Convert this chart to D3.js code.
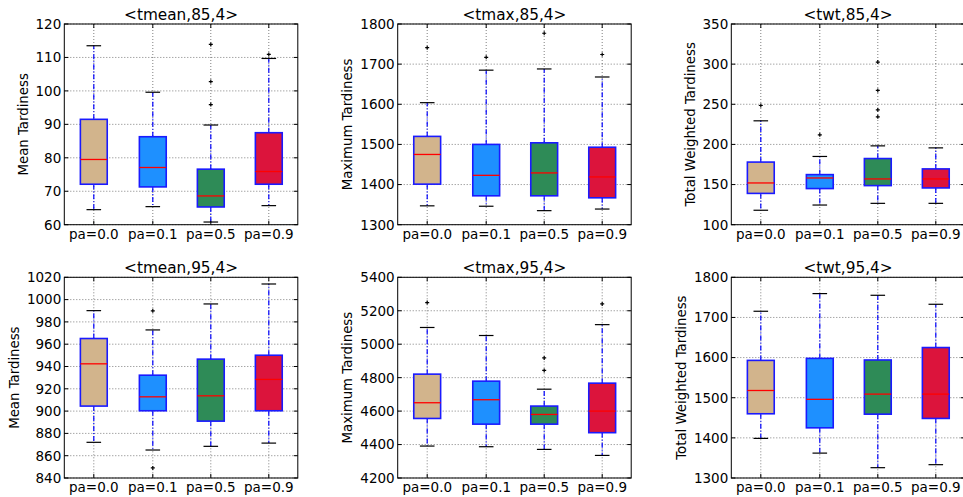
<!DOCTYPE html>
<html><head><meta charset="utf-8">
<script src="https://cdn.jsdelivr.net/npm/d3@7"></script>
<style>
body{margin:0;background:#fff;}
text{font-family:"DejaVu Sans",sans-serif;fill:#000;}
</style></head>
<body><svg id="chart" width="963" height="497"></svg>
<script>
const categories = ["pa=0.0","pa=0.1","pa=0.5","pa=0.9"];
const boxColors = ["#D2B48C","#1E90FF","#2E8B57","#DC143C"];
const titles = ["<tmean,85,4>","<tmax,85,4>","<twt,85,4>","<tmean,95,4>","<tmax,95,4>","<twt,95,4>"];
const yLabels = ["Mean Tardiness","Maximum Tardiness","Total Weighted Tardiness","Mean Tardiness","Maximum Tardiness","Total Weighted Tardiness"];
const yDomains = [[60,120],[1300,1800],[100,350],[840,1020],[4200,5400],[1300,1800]];
const yTicks = [
  [60,70,80,90,100,110,120],
  [1300,1400,1500,1600,1700,1800],
  [100,150,200,250,300,350],
  [840,860,880,900,920,940,960,980,1000,1020],
  [4200,4400,4600,4800,5000,5200,5400],
  [1300,1400,1500,1600,1700,1800]
];
// per panel, per category: [lowerWhisker, q1, median, q3, upperWhisker]
const stats = [
  [[64.5,72.1,79.5,91.5,113.5],[65.4,71.3,77.1,86.3,99.6],[60.8,65.3,68.6,76.6,89.8],[65.7,72.1,75.9,87.5,109.7]],
  [[1347,1401,1475,1520,1604],[1346,1372,1423,1500,1685],[1335,1372,1429,1504,1688],[1339,1367,1419,1493,1668]],
  [[118,139,152,178,229.4],[124.5,145,158.2,162.4,185],[126.6,148.7,157,182.4,198.2],[126.6,145.8,157,169.5,195.7]],
  [[872,904.5,942.4,965.1,990.1],[865.1,900.3,912.8,932.2,972.8],[868.4,891,913.7,946.6,996.1],[871.3,900.3,928.4,950.1,1014]],
  [[4391,4556,4650,4821,5100],[4387,4522,4668,4779,5052],[4371,4522,4580,4630,4731],[4335,4471,4600,4767,5117]],
  [[1398.7,1460,1518,1593,1715.4],[1362,1425,1496,1598,1759.4],[1325.7,1459,1509,1594,1755.2],[1333.2,1448.4,1509,1625,1732.8]]
];
const fliers = [
  [[],[],[113.9,102.8,95.9],[110.9]],
  [[1741],[1717],[1777],[1724]],
  [[248.5],[211.9],[302.6,267.2,243.1,234.4],[]],
  [[],[989.9,849],[],[]],
  [[5249],[],[4918,4843],[5241]],
  [[],[],[],[]]
];

const svg = d3.select("#chart");
const lefts = [64.3,397.7,731.3];
const tops = [24,277.3];
const W = 233.5, H = 200.7;

for (let p=0;p<6;p++){
  const col = p%3, row = Math.floor(p/3);
  const g = svg.append("g").attr("transform",`translate(${lefts[col]},${tops[row]})`);
  const x = d3.scaleLinear().domain([0.5,4.5]).range([0,W]);
  const y = d3.scaleLinear().domain(yDomains[p]).range([H,0]);
  // grid
  g.selectAll(".gy").data(yTicks[p]).join("line")
    .attr("x1",0).attr("x2",W).attr("y1",d=>y(d)).attr("y2",d=>y(d))
    .attr("stroke","#000").attr("stroke-opacity",0.5).attr("stroke-width",1).attr("stroke-dasharray","1,2");
  g.selectAll(".gx").data(categories).join("line")
    .attr("y1",0).attr("y2",H).attr("x1",(d,i)=>Math.round(x(i+1))+0.5).attr("x2",(d,i)=>Math.round(x(i+1))+0.5)
    .attr("stroke","#000").attr("stroke-opacity",0.5).attr("stroke-width",1).attr("stroke-dasharray","1,2");
  // boxes
  const bw = x(1.23)-x(1), cw = x(1.125)-x(1);
  categories.forEach((c,i)=>{
    const s = stats[p][i], cx = Math.round(x(i+1))+0.5;
    // whiskers
    g.append("line").attr("x1",cx).attr("x2",cx).attr("y1",y(s[3])).attr("y2",y(s[4]))
      .attr("stroke","#0000ff").attr("stroke-width",1.2).attr("stroke-dasharray","5,2,1,2");
    g.append("line").attr("x1",cx).attr("x2",cx).attr("y1",y(s[1])).attr("y2",y(s[0]))
      .attr("stroke","#0000ff").attr("stroke-width",1.2).attr("stroke-dasharray","5,2,1,2");
    // caps
    [s[0],s[4]].forEach(v=>{
      g.append("line").attr("x1",cx-cw).attr("x2",cx+cw).attr("y1",y(v)).attr("y2",y(v))
        .attr("stroke","#000").attr("stroke-width",1.2);
    });
    // box
    g.append("rect").attr("x",cx-bw).attr("width",2*bw).attr("y",y(s[3])).attr("height",y(s[1])-y(s[3]))
      .attr("fill",boxColors[i]).attr("stroke","#1a1aff").attr("stroke-width",1.6);
    // median
    g.append("line").attr("x1",cx-bw).attr("x2",cx+bw).attr("y1",y(s[2])).attr("y2",y(s[2]))
      .attr("stroke","#ff0000").attr("stroke-width",1.3);
    // fliers
    fliers[p][i].forEach(v=>{
      g.append("path").attr("d",`M${cx-2},${y(v)}H${cx+2}M${cx},${y(v)-2}V${y(v)+2}`)
        .attr("stroke","#000").attr("stroke-width",1.2);
    });
  });
  // frame
  g.append("rect").attr("x",0).attr("y",0).attr("width",W).attr("height",H)
    .attr("fill","none").attr("stroke","#000").attr("stroke-width",1);
  // y ticks
  const yl = g.selectAll(".yt").data(yTicks[p]).join("g").attr("transform",d=>`translate(0,${y(d)})`);
  yl.append("line").attr("x1",0).attr("x2",4).attr("stroke","#000");
  yl.append("line").attr("x1",W-4).attr("x2",W).attr("stroke","#000");
  const ytext = yl.append("text").attr("x",-3).attr("dy","0.36em").attr("text-anchor","end")
    .attr("font-size",13.5).text(d=>d);
  let maxW = 0; ytext.each(function(){maxW=Math.max(maxW,this.getBBox().width);});
  // x ticks
  categories.forEach((c,i)=>{
    const cx = Math.round(x(i+1))+0.5;
    g.append("line").attr("x1",cx).attr("x2",cx).attr("y1",H).attr("y2",H-4).attr("stroke","#000");
    g.append("line").attr("x1",cx).attr("x2",cx).attr("y1",0).attr("y2",4).attr("stroke","#000");
    g.append("text").attr("x",cx).attr("y",H+14).attr("text-anchor","middle").attr("font-size",13.5).text(c);
  });
  // title
  g.append("text").attr("x",W/2).attr("y",-4).attr("text-anchor","middle").attr("font-size",15.3).text(titles[p]);
  // y label
  g.append("text").attr("transform",`translate(${-maxW-11},${H/2}) rotate(-90)`)
    .attr("text-anchor","middle").attr("font-size",13.3).text(yLabels[p]);
}
</script></body></html>
